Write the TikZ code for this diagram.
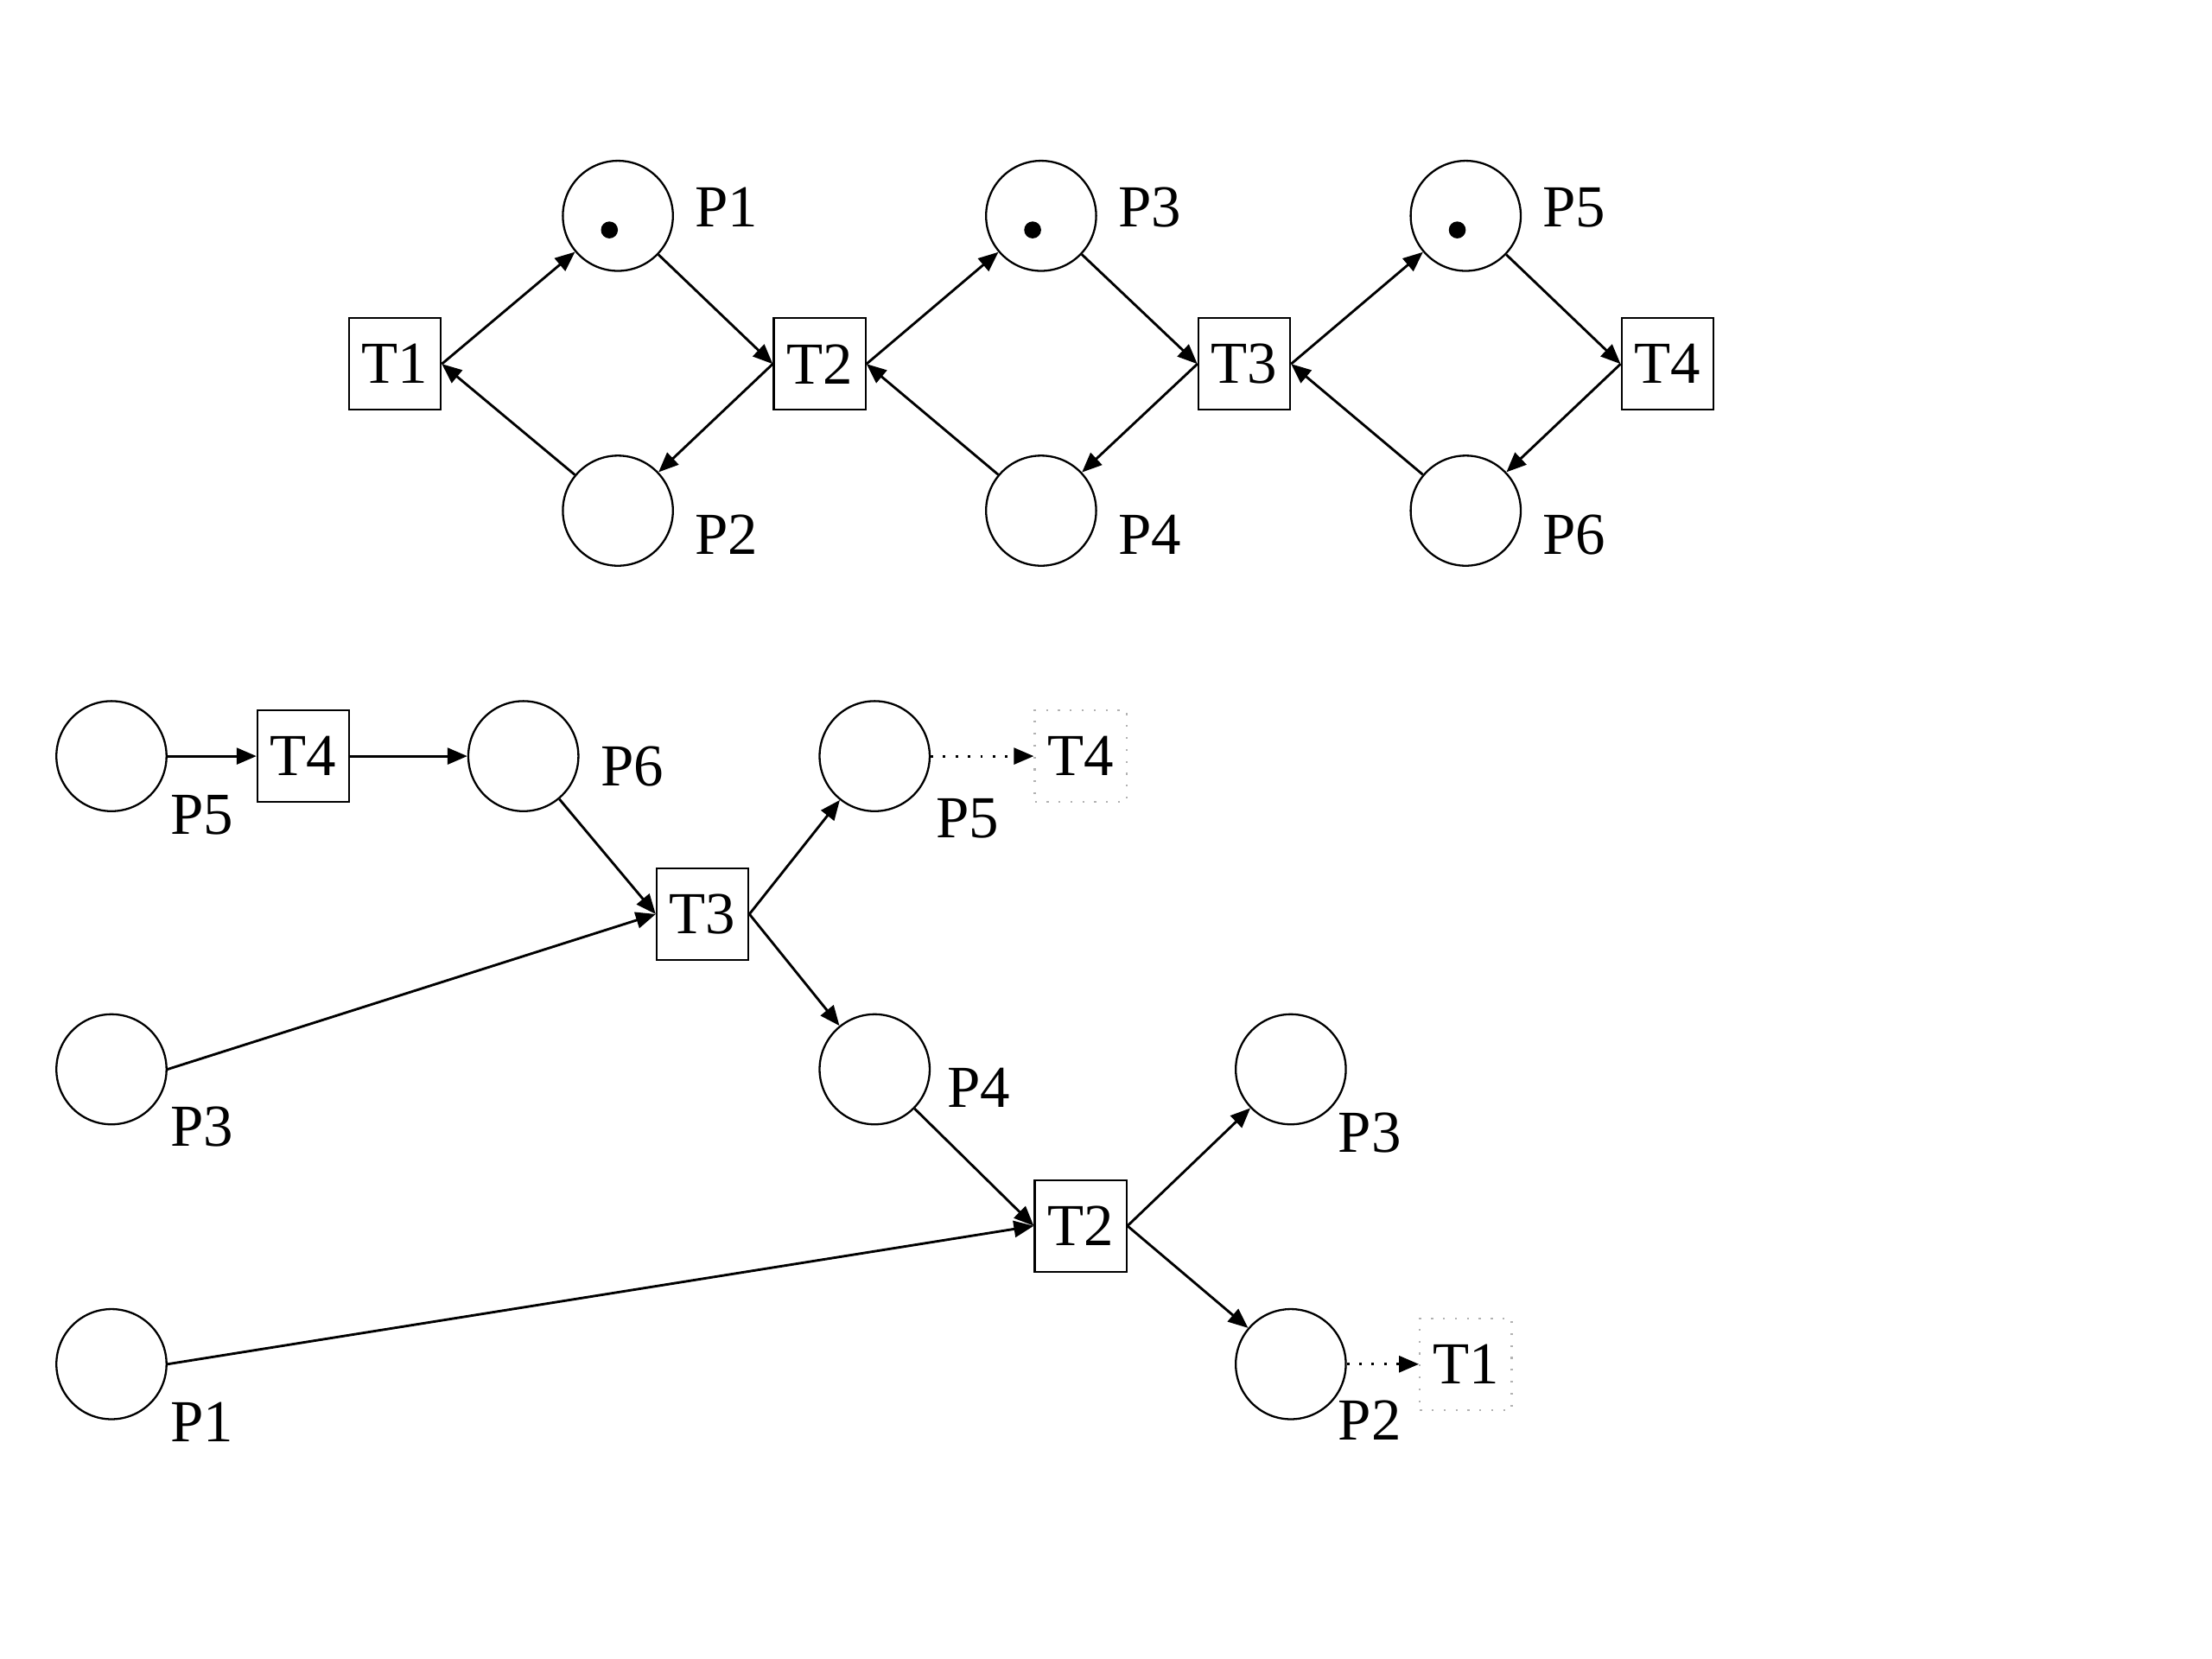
\documentclass[tikz,border=0pt]{standalone}
\usepackage{fontspec}
\setmainfont{Liberation Serif}
\usetikzlibrary{arrows.meta}

\begin{document}
\begin{tikzpicture}[x=0.01cm, y=-0.01cm,
        place/.style = {circle, draw, line width=0.4pt, minimum size=0.78cm, inner sep=0pt},
        trans/.style = {draw, line width=0.4pt, minimum size=0.65cm, inner sep=0pt},
        ghost/.style = {trans, draw=gray!60, dotted},
        token/.style = {circle, fill=black, inner sep=0pt, minimum size=0.12cm},
        lbl/.style = {inner sep=0pt},
        arc/.style = {-{Triangle[length=4pt,width=3.3pt]}, line width=0.5pt},
        every node/.append style = {font=\fontsize{12}{14}\selectfont}
    ]
        \useasboundingbox (0,0) rectangle (1568,1176);
        % net
        \foreach \n/\x in {1/280,2/581,3/882,4/1182}
            \node[trans] (T\n) at (\x,258) {T\n};
        \foreach \i/\x in {1/438,3/738,5/1039} {
            \node[place] (P\i) at (\x,153) {};
            \node[token] (K\i) at (\x-6,163) {};
            \node[lbl] (L\i) at (\x+77,147) {P\i};
        }
        \foreach \i/\x in {2/438,4/738,6/1039} {
            \node[place] (P\i) at (\x,362) {};
            \node[lbl] (L\i) at (\x+77,379) {P\i};
        }
        \foreach \k/\u/\l/\nx in {1/1/2/2, 2/3/4/3, 3/5/6/4} {
            \draw[arc] (T\k.east) -- (P\u);
            \draw[arc] (P\l) -- (T\k.east);
            \draw[arc] (P\u) -- (T\nx.west);
            \draw[arc] (T\nx.west) -- (P\l);
        }
        % unfolding
        \node[place] (sP5) at (79,536) {};
        \node[lbl] at (143,578) {P5};
        \node[trans] (sT4) at (215,536) {T4};
        \node[place] (sP6) at (371,536) {};
        \node[lbl] at (448,543) {P6};
        \node[trans] (sT3) at (498,648) {T3};
        \node[place] (sP5b) at (620,536) {};
        \node[lbl] at (686,580) {P5};
        \node[ghost] (gT4) at (766,536) {T4};
        \node[place] (sP3) at (79,758) {};
        \node[lbl] at (143,799) {P3};
        \node[place] (sP4) at (620,758) {};
        \node[lbl] at (694,771) {P4};
        \node[trans] (sT2) at (766,869) {T2};
        \node[place] (sP3b) at (915,758) {};
        \node[lbl] at (971,803) {P3};
        \node[place] (sP2) at (915,967) {};
        \node[lbl] at (971,1007) {P2};
        \node[ghost] (gT1) at (1039,967) {T1};
        \node[place] (sP1) at (79,967) {};
        \node[lbl] at (143,1008) {P1};

        \draw[arc] (sP5.east) -- (sT4.west);
        \draw[arc] (sT4.east) -- (sP6.west);
        \draw[arc] (sP6) -- (sT3.west);
        \draw[arc] (sP3.east) -- (sT3.west);
        \draw[arc] (sT3.east) -- (sP5b);
        \draw[arc] (sT3.east) -- (sP4);
        \draw[arc, dotted] (sP5b.east) -- (gT4.west);
        \draw[arc] (sP4) -- (sT2.west);
        \draw[arc] (sP1.east) -- (sT2.west);
        \draw[arc] (sT2.east) -- (sP3b);
        \draw[arc] (sT2.east) -- (sP2);
        \draw[arc, dotted] (sP2.east) -- (gT1.west);
    \end{tikzpicture}
\end{document}
